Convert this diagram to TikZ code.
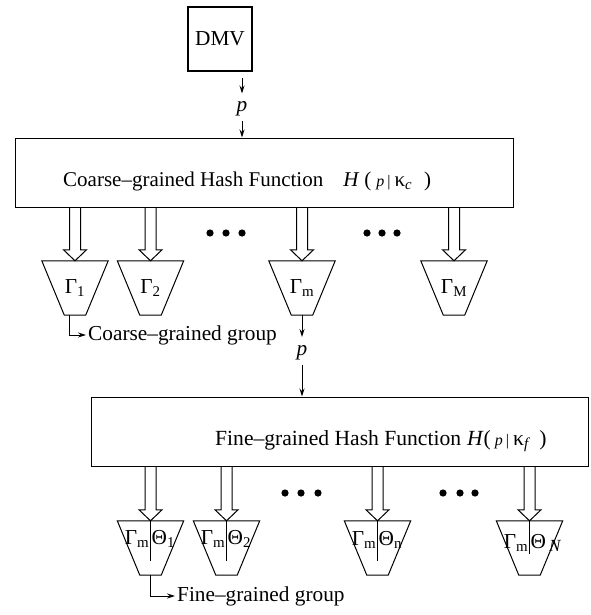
\documentclass[tikz,border=0pt]{standalone}
\usepackage{fontspec}
\setmainfont{Liberation Serif}
\usepackage{tikz}
\usetikzlibrary{arrows.meta,calc}

\tikzset{
  block/.style={draw,line width=1pt,rectangle,inner sep=0pt},
  group/.style={rectangle,minimum width=66pt,minimum height=54pt,inner sep=0pt,
    append after command={\pgfextra{\let\grpnode\tikzlastnode
      \draw[line width=1pt] (\grpnode.north west) -- (\grpnode.north east)
        -- ([xshift=-22.5pt]\grpnode.south east) -- ([xshift=22.5pt]\grpnode.south west) -- cycle;}}},
  fat/.style={line width=1pt,to path={let \p1=(\tikztostart), \p2=(\tikztotarget) in
    (\x2-5.5pt,\y1) -- (\x2-5.5pt,\y2+11pt) -- (\x2-11.5pt,\y2+11pt) -- (\x2,\y2)
    -- (\x2+11.5pt,\y2+11pt) -- (\x2+5.5pt,\y2+11pt) -- (\x2+5.5pt,\y1)}},
  plabel/.style={inner sep=0pt},
  link/.style={line width=1pt,->}
}

\newcommand{\smallp}{{\fontsize{16}{16}\selectfont\textit{p}\hspace{3pt}|}}

\begin{document}
\begin{tikzpicture}[x=1pt,y=-1pt,font=\fontsize{21.3}{26}\selectfont,
  >={Stealth[length=8pt,width=5pt]}]
   \useasboundingbox (0,0) rectangle (590,615);
   \node[block,line width=2pt,minimum width=64pt,minimum height=64pt] (dmv) at (220,39) {DMV};
   \node[plabel] (p1) at (242,109) {\textit{p}};
   \node[block,minimum width=498pt,minimum height=69pt] (cg) at (264,172.5) {};
   \node[anchor=base west,inner sep=0pt,font=\fontsize{21}{26}\selectfont] (cgtext) at (63,186)
     {Coarse--grained Hash Function\hspace{20pt}\textit{H}\hspace{5pt}(\hspace{5pt}\smallp\hspace{4pt}κ\textsubscript{\textit{c}}\hspace{12pt})};
   \path[link,shorten <=6pt,shorten >=8pt] (dmv.south -| p1) edge (p1.north);
   \path[link,shorten <=5pt] (p1.south) edge (p1 |- cg.north);

   % coarse-grained groups
   \node[group] (g1) at (75,288) {Γ\textsubscript{1}};
   \node[group] (g2) at (150.5,288) {Γ\textsubscript{2}};
   \node[group] (gm) at (302,288) {Γ\textsubscript{m}};
   \node[group] (gM) at (454,288) {Γ\textsubscript{M}};
   \draw[fat] (cg.south) to (g1.north);
   \draw[fat] (cg.south) to (g2.north);
   \draw[fat] (cg.south) to (gm.north);
   \draw[fat] (cg.south) to (gM.north);
   \foreach \x in {210,226,242,367,382,397}
     \fill (\x,233) circle (3.6pt);
   \node[anchor=west,inner sep=2pt] (cgroup) at (86,335) {Coarse--grained group};
   \draw[link] ([xshift=-6pt]g1.south) |- (cgroup.west);

   \node[plabel] (p2) at (302,352.5) {\textit{p}};
   \node[block,minimum width=497pt,minimum height=69pt] (fg) at (339.5,431.5) {};
   \node[anchor=base west,inner sep=0pt,font=\fontsize{21.6}{26}\selectfont] (fgtext) at (215,445)
     {Fine--grained Hash Function\hspace{6pt}\textit{H}(\hspace{4pt}\smallp\hspace{4pt}κ\textsubscript{\textit{f}}\hspace{9pt})};
   \path[link,shorten >=8pt] (gm.south) edge (p2.north);
   \path[link,shorten <=5pt] (p2.south) edge (p2 |- fg.north);

   % fine-grained groups
   \node[group] (f1) at (150.5,548) {};
   \node[group] (f2) at (226.5,548) {};
   \node[group] (fn) at (377.5,548) {};
   \node[group] (fN) at (529.5,548) {};
   \draw[fat] (fg.south) to (f1.north);
   \draw[fat] (fg.south) to (f2.north);
   \draw[fat] (fg.south) to (fn.north);
   \draw[fat] (fg.south) to (fN.north);
   \foreach \x in {285,301,318,443,460,475}
     \fill (\x,493) circle (3.6pt);
   \draw[line width=1pt] (f1.north) -- ++(0,40);
   \draw[line width=1pt] (f2.north) -- ++(0,40);
   \draw[line width=1pt] (fn.north) -- ++(0,40);
   \draw[line width=1pt] (fN.north) -- ++(0,33);
   \node[anchor=base east,inner sep=1pt] at ($(f1.north)+(0,24)$) {Γ\textsubscript{m}};
   \node[anchor=base west,inner sep=1pt] at ($(f1.north)+(0,24)$) {Θ\textsubscript{1}};
   \node[anchor=base east,inner sep=1pt] at ($(f2.north)+(0,24)$) {Γ\textsubscript{m}};
   \node[anchor=base west,inner sep=1pt] at ($(f2.north)+(0,24)$) {Θ\textsubscript{2}};
   \node[anchor=base east,inner sep=1pt] at ($(fn.north)+(0,25)$) {Γ\textsubscript{m}};
   \node[anchor=base west,inner sep=1pt] at ($(fn.north)+(0,25)$) {Θ\textsubscript{n}};
   \node[anchor=base east,inner sep=1pt] at ($(fN.north)+(0,28)$) {Γ\textsubscript{m}};
   \node[anchor=base west,inner sep=1pt] at ($(fN.north)+(0,28)$) {Θ\hspace{3pt}\raisebox{-3pt}{\fontsize{17}{17}\selectfont\textit{N}}};
   \node[anchor=west,inner sep=2pt] (fgroup) at (175,596) {Fine--grained group};
   \draw[link] (f1.south) |- (fgroup.west);
  \end{tikzpicture}
\end{document}
